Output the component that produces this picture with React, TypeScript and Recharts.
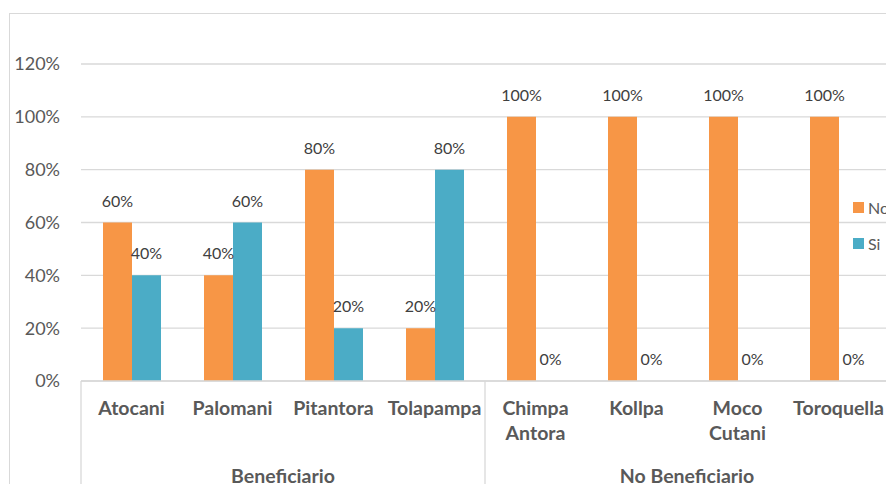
import React from "react";
import { BarChart, Bar, XAxis, YAxis, CartesianGrid, LabelList } from "recharts";

// categories and values
const categories = ["Atocani", "Palomani", "Pitantora", "Tolapampa", "Chimpa Antora", "Kollpa", "Moco Cutani", "Toroquella"];
const noValues = [60, 40, 80, 20, 100, 100, 100, 100];
const siValues = [40, 60, 20, 80, 0, 0, 0, 0];
const groups = [
    { name: "Beneficiario", size: 4 },
    { name: "No Beneficiario", size: 4 },
];
const yTicks = [0, 20, 40, 60, 80, 100, 120];

const series = [
    { key: "no", name: "No", color: "#F79646" },
    { key: "si", name: "Si", color: "#4BACC6" },
];

const data = categories.map((c, i) => ({ name: c, no: noValues[i], si: siValues[i] }));

const FONT = "Lato, 'Open Sans', sans-serif";
const AXIS_GREY = "#D9D9D9";
const TEXT_GREY = "#595959";

// group start index for each category
const groupStarts: Record<number, { name: string; size: number }> = {};
let acc = 0;
groups.forEach((g) => {
    groupStarts[acc] = g;
    acc += g.size;
});

const CategoryTick = (props: any) => {
    const { x, y, payload, index } = props;
    const half = payload && payload.offset ? payload.offset : 50.5;
    const lines = String(payload.value).split(" ");
    const grp = groupStarts[index];
    const isLast = index === categories.length - 1;
    return (
        <g>
            <text x={x} y={y + 34} textAnchor="middle" fill={TEXT_GREY} fontFamily={FONT} fontWeight={700} fontSize={19.5}>
                {lines.map((l, i) => (
                    <tspan key={i} x={x} dy={i === 0 ? 0 : 25}>
                        {l}
                    </tspan>
                ))}
            </text>
            {grp && (
                <>
                    <line x1={x - half} x2={x - half} y1={y} y2={y + 200} stroke={AXIS_GREY} strokeWidth={1.3} />
                    <text
                        x={x - half + grp.size * half}
                        y={y + 102}
                        textAnchor="middle"
                        fill={TEXT_GREY}
                        fontFamily={FONT}
                        fontWeight={700}
                        fontSize={19.5}
                    >
                        {grp.name}
                    </text>
                </>
            )}
            {isLast && <line x1={x + half} x2={x + half} y1={y} y2={y + 200} stroke={AXIS_GREY} strokeWidth={1.3} />}
        </g>
    );
};

const App: React.FC = () => {
    return (
        <div style={{ position: "fixed", left: 0, top: 0, width: 886, height: 484, overflow: "hidden", background: "#fff" }}>
            <div style={{ position: "absolute", left: 9, top: 13, width: 1000, height: 600, border: `1.5px solid ${AXIS_GREY}` }} />
            <div style={{ position: "absolute", left: 0, top: 0 }}>
                <BarChart
                    width={1000}
                    height={501}
                    data={data}
                    margin={{ top: 64, right: 111, bottom: 0, left: 0 }}
                    barCategoryGap={22}
                    barGap={0}
                >
                    <CartesianGrid vertical={false} stroke={AXIS_GREY} strokeWidth={1.3} />
                    <YAxis
                        width={81}
                        domain={[0, 120]}
                        ticks={yTicks}
                        axisLine={false}
                        tickLine={false}
                        tickSize={0}
                        tickMargin={21}
                        tickFormatter={(v) => `${v}%`}
                        tick={{ fill: TEXT_GREY, fontSize: 18, fontFamily: FONT }}
                    />
                    {series.map((s) => (
                        <Bar key={s.key} dataKey={s.key} fill={s.color} minPointSize={0.01} isAnimationActive={false}>
                            <LabelList
                                dataKey={s.key}
                                position="top"
                                offset={16}
                                formatter={(v: any) => `${v}%`}
                                fill="#404040"
                                fontSize={16}
                                fontFamily={FONT}
                            />
                        </Bar>
                    ))}
                    <XAxis
                        dataKey="name"
                        height={120}
                        interval={0}
                        tickSize={0}
                        tickMargin={0}
                        axisLine={{ stroke: AXIS_GREY, strokeWidth: 1.3 }}
                        tickLine={false}
                        tick={<CategoryTick />}
                    />
                </BarChart>
            </div>
            {/* legend drawn over the plot like the Excel original */}
            <div style={{ position: "absolute", left: 853, top: 197, fontFamily: FONT, fontSize: 16, color: TEXT_GREY }}>
                {series.map((s) => (
                    <div key={s.key} style={{ display: "flex", alignItems: "center", height: 21, marginBottom: 15 }}>
                        <span style={{ display: "inline-block", width: 11, height: 11, background: s.color, marginRight: 4 }} />
                        <span>{s.name}</span>
                    </div>
                ))}
            </div>
        </div>
    );
};

export default App;
